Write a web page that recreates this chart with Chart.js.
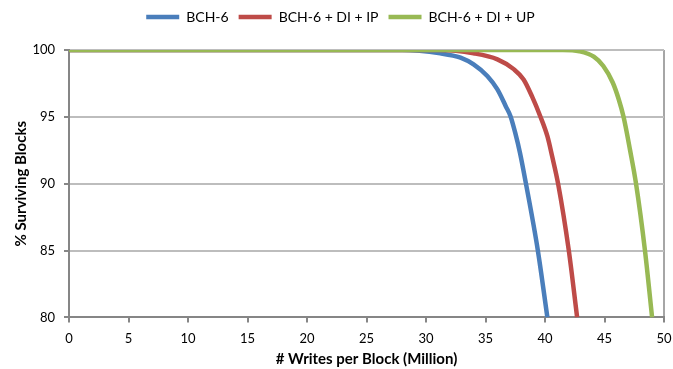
<!DOCTYPE html>
<html>
<head>
<meta charset="utf-8">
<script src="https://cdn.jsdelivr.net/npm/chart.js@4"></script>
<style>
  html, body { margin:0; padding:0; background:#fff; }
  #wrap { width:673px; height:369px; }
</style>
</head>
<body>
<div id="wrap"><canvas id="survChart" width="673" height="369"></canvas></div>
<script>
// values (x = million writes, y = % surviving)
const seriesNames = ["BCH-6", "BCH-6 + DI + IP", "BCH-6 + DI + UP"];
const bchX   = [0, 28, 31.2, 32.9, 34.0, 35.15, 36.0, 36.7, 37.1, 37.5, 37.9, 38.4, 39.4, 40.2];
const bchY   = [100, 100, 99.75, 99.43, 98.92, 98.05, 97.05, 95.8, 95.05, 93.8, 92.3, 90, 85, 80];
const ipX    = [0, 31.2, 34.0, 36.0, 37.4, 38.2, 38.9, 39.6, 40.2, 40.6, 41.1, 42.0, 42.7];
const ipY    = [100, 100, 99.75, 99.3, 98.55, 97.8, 96.55, 95.05, 93.55, 92.05, 90, 85, 80];
const upX    = [0, 41.5, 42.9, 44.1, 44.9, 45.7, 46.2, 46.6, 47.15, 47.65, 48.4, 49.0];
const upY    = [100, 100, 99.9, 99.5, 98.8, 97.55, 96.3, 95, 92.5, 90, 85, 80];
const colors = ["#4a7ebb", "#be4b48", "#98b954"];
const xTicks = [0, 50, 5];
const yTicks = [80, 100, 5];

const font = "Lato, 'Open Sans', sans-serif";
const pts = (xs, ys) => xs.map((x, i) => ({x: x, y: ys[i]}));

function ds(i, xs, ys){
    return {
        label: seriesNames[i],
        data: pts(xs, ys),
        borderColor: colors[i],
        backgroundColor: colors[i],
        borderWidth: 4.5,
        pointRadius: 0,
        cubicInterpolationMode: "monotone",
        order: 3 - i
    };
}

// push the plot down a bit under the legend
const legendGap = {
    id: "legendGap",
    beforeInit(chart){
        const fit = chart.legend.fit;
        chart.legend.fit = function(){
            fit.bind(chart.legend)();
            this.height += 16;
        };
    }
};

new Chart(survChart, {
    type: "line",
    data: {
        datasets: [ds(0, bchX, bchY), ds(1, ipX, ipY), ds(2, upX, upY)]
    },
    plugins: [legendGap],
    options: {
        responsive: false,
        animation: false,
        layout: {padding: {left: 8, right: 0, top: 0, bottom: 0}},
        plugins: {
            tooltip: {enabled: false},
            legend: {
                position: "top",
                labels: {
                    usePointStyle: true,
                    pointStyleWidth: 33,
                    pointStyle: "line",
                    boxHeight: 13,
                    padding: 10,
                    color: "#000",
                    font: {family: font, size: 14},
                    sort: (a, b) => a.datasetIndex - b.datasetIndex
                }
            }
        },
        scales: {
            x: {
                type: "linear",
                min: xTicks[0], max: xTicks[1],
                afterFit: s => { s.height -= 8; s.paddingRight = 9; },
                ticks: {stepSize: xTicks[2], color: "#000", font: {family: font, size: 13}, padding: 9},
                grid: {
                    color: c => (c.tick && c.tick.value === xTicks[1]) ? "#a6a6a6" : "rgba(0,0,0,0)",
                    tickColor: "#868686",
                    tickLength: 5,
                    lineWidth: 2
                },
                border: {color: "#868686", width: 2},
                title: {display: true, text: "# Writes per Block (Million)", color: "#000",
                        font: {family: font, size: 15, weight: "bold"}, padding: {top: 2, bottom: 1}}
            },
            y: {
                min: yTicks[0], max: yTicks[1],
                afterFit: s => { s.width = 61; },
                ticks: {stepSize: yTicks[2], color: "#000", font: {family: font, size: 13}, padding: 9},
                grid: {color: "#bdbdbd", tickColor: "#868686", tickLength: 5, lineWidth: 2},
                border: {color: "#868686", width: 2},
                title: {display: true, text: "% Surviving Blocks", color: "#000",
                        font: {family: font, size: 15, weight: "bold"}, padding: {bottom: 4}}
            }
        }
    }
});
</script>
</body>
</html>
